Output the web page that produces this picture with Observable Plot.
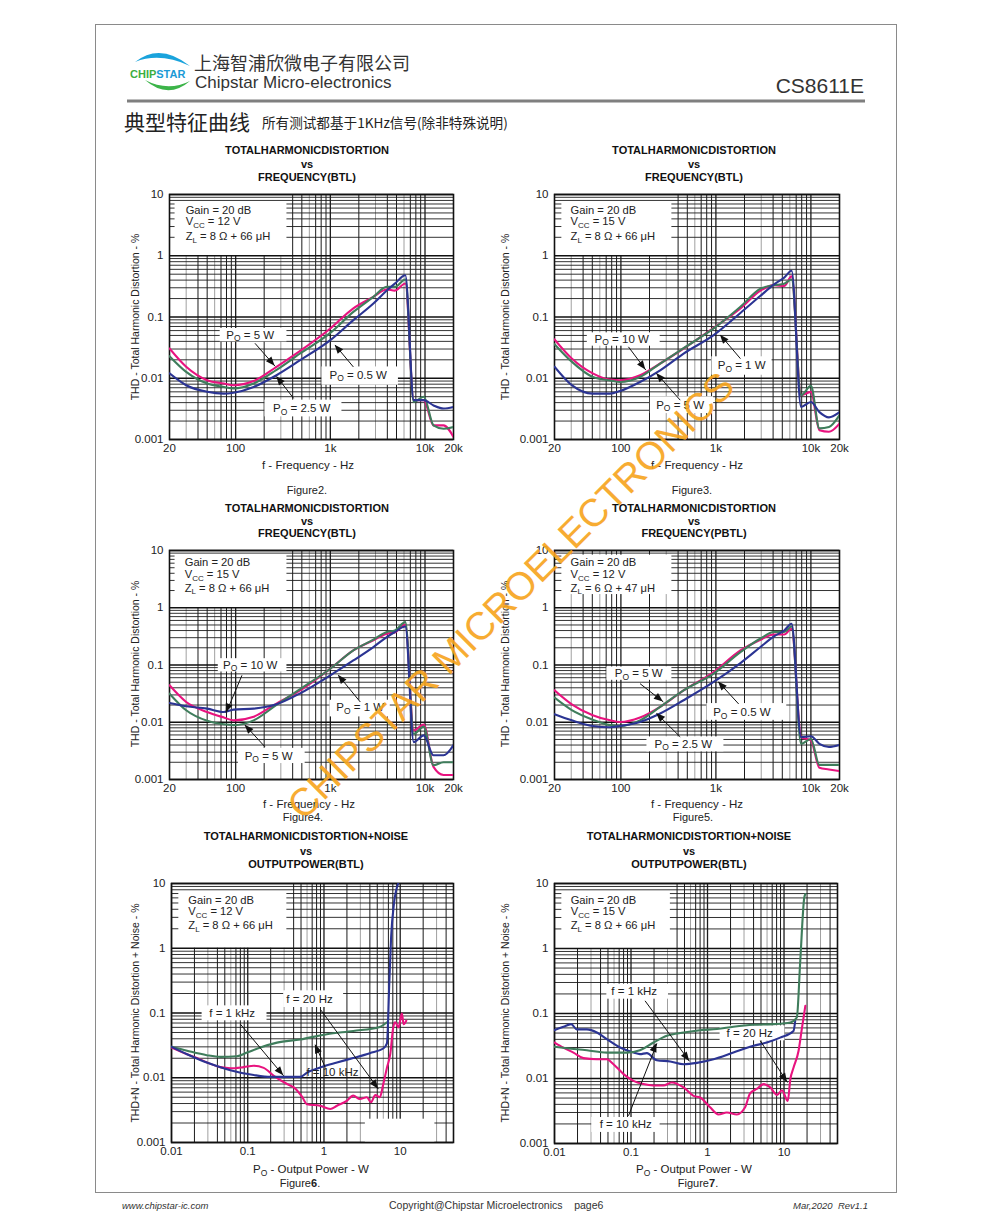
<!DOCTYPE html>
<html><head><meta charset="utf-8">
<script src="https://cdn.jsdelivr.net/npm/d3@7"></script>
<script src="https://cdn.jsdelivr.net/npm/@observablehq/plot@0.6"></script>
<style>
body{margin:0;background:#fff;}
#page{position:relative;width:991px;height:1219px;overflow:hidden;background:#fff;font-family:"Liberation Sans",Arial,sans-serif;}
.chart{position:absolute;}
#overlay{position:absolute;left:0;top:0;pointer-events:none;}
</style></head><body><div id="page"></div>
<script>
// ---------- DATA ----------
const yTicks = [0.001, 0.01, 0.1, 1, 10];
const yTickLabels = ["0.001", "0.01", "0.1", "1", "10"];
const freqTicks = [20, 100, 1000, 10000, 20000];
const freqTickLabels = ["20", "100", "1k", "10k", "20k"];
const powerTicks = [0.01, 0.1, 1, 10, 50];
const powerTickLabels = ["0.01", "0.1", "1", "10", "50"];

// Figure 2 / Figure 4 frequency points (Hz)
const freqA = [20, 30, 50, 75, 95, 155, 270, 480, 1000, 1750, 2850, 3950, 4800, 6200, 7600, 9700, 12300, 15700, 20000];
const fig2Pink  = [0.0306, 0.0154, 0.0093, 0.0082, 0.0077, 0.0090, 0.0154, 0.0280, 0.0649, 0.138, 0.213, 0.281, 0.27, 0.352, 0.0044, 0.0044, 0.0017, 0.0017, 0.0011];
const fig2Green = [0.0229, 0.0127, 0.0082, 0.0072, 0.0068, 0.0082, 0.0137, 0.0254, 0.0551, 0.121, 0.213, 0.311, 0.31, 0.41, 0.0041, 0.0050, 0.0017, 0.0015, 0.0016];
const fig2Blue  = [0.012, 0.0077, 0.0060, 0.0056, 0.0058, 0.0072, 0.0112, 0.0197, 0.0419, 0.0888, 0.166, 0.27, 0.35, 0.48, 0.0044, 0.0044, 0.0036, 0.0032, 0.0034];
const fig4Pink  = [0.0442, 0.0226, 0.0151, 0.0121, 0.0108, 0.0125, 0.0212, 0.036, 0.0863, 0.18, 0.27, 0.352, 0.37, 0.51, 0.0072, 0.0091, 0.00166, 0.0012, 0.0012];
const fig4Green = [0.0316, 0.0162, 0.0106, 0.0092, 0.0089, 0.0108, 0.0201, 0.038, 0.086, 0.18, 0.277, 0.377, 0.40, 0.56, 0.0063, 0.0084, 0.00178, 0.0020, 0.0020];
const fig4Blue  = [0.0217, 0.0190, 0.0173, 0.0151, 0.0166, 0.0173, 0.0206, 0.032, 0.066, 0.12, 0.206, 0.308, 0.377, 0.47, 0.0045, 0.0059, 0.00265, 0.00265, 0.0040];

// Figure 3 / Figure 5 frequency points (Hz)
const freqB = [20, 30.4, 50.5, 77, 98, 159, 259, 457, 947, 1812, 2946, 4090, 5233, 6265, 7880, 10000, 12300, 15500, 20000];
const fig3Pink  = [0.0430, 0.021, 0.012, 0.0095, 0.0093, 0.0112, 0.0174, 0.0306, 0.0665, 0.138, 0.27, 0.331, 0.32, 0.46, 0.0053, 0.0060, 0.00142, 0.00134, 0.00182];
const fig3Green = [0.036, 0.0186, 0.0105, 0.0092, 0.0087, 0.0105, 0.0174, 0.031, 0.065, 0.147, 0.29, 0.33, 0.35, 0.41, 0.0053, 0.0075, 0.00152, 0.0016, 0.0025];
const fig3Blue  = [0.0154, 0.0077, 0.0056, 0.0056, 0.0062, 0.0087, 0.0135, 0.0253, 0.0505, 0.116, 0.222, 0.34, 0.44, 0.568, 0.0034, 0.0041, 0.0028, 0.0023, 0.0028];
const fig5Pink  = [0.0362, 0.0206, 0.0133, 0.0108, 0.0101, 0.0121, 0.0186, 0.036, 0.0755, 0.18, 0.277, 0.34, 0.34, 0.43, 0.0055, 0.0048, 0.0016, 0.0015, 0.0014];
const fig5Green = [0.0269, 0.0163, 0.0111, 0.0089, 0.0086, 0.0108, 0.0186, 0.036, 0.071, 0.168, 0.29, 0.376, 0.376, 0.47, 0.0042, 0.0051, 0.0018, 0.0018, 0.0018];
const fig5Blue  = [0.0138, 0.0108, 0.0086, 0.0082, 0.0086, 0.0101, 0.0142, 0.0242, 0.0505, 0.108, 0.206, 0.316, 0.40, 0.526, 0.0055, 0.0057, 0.0042, 0.0037, 0.0040];

// Figure 6 (output power W -> THD+N %)
const fig6BlueP  = [0.01, 0.016, 0.029, 0.059, 0.12, 0.2, 0.3, 0.49, 0.6, 0.89, 1.48, 2.42, 4.0, 6.0, 6.7, 7.2, 7.6, 8.3, 9.4];
const fig6Blue   = [0.030, 0.0231, 0.0172, 0.0131, 0.011, 0.0103, 0.0103, 0.0103, 0.012, 0.0144, 0.0172, 0.0202, 0.024, 0.0283, 0.034, 0.3, 1.5, 5.0, 10];
const fig6GreenP = [0.01, 0.016, 0.029, 0.044, 0.072, 0.098, 0.146, 0.242, 0.489, 1.09, 2.42, 5.4, 6.7];
const fig6Green  = [0.030, 0.0261, 0.0223, 0.021, 0.0215, 0.0245, 0.0293, 0.0349, 0.039, 0.047, 0.0528, 0.061, 0.072];
const fig6PinkP  = [0.01, 0.016, 0.0216, 0.0293, 0.0438, 0.0594, 0.0887, 0.12, 0.162, 0.22, 0.328, 0.402, 0.515, 0.598, 0.89, 1.21, 1.48, 1.99, 2.42, 2.96, 3.65, 4.14, 4.72, 5.4, 6.0, 6.7, 7.4, 8.1, 8.6, 9.5, 10.5, 11.1, 12.0];
const fig6Pink   = [0.0292, 0.0231, 0.0202, 0.0172, 0.0146, 0.0140, 0.0146, 0.0153, 0.0142, 0.0107, 0.008, 0.0071, 0.0051, 0.0039, 0.0037, 0.0033, 0.0037, 0.0044, 0.0053, 0.0047, 0.005, 0.0042, 0.0054, 0.005, 0.008, 0.0143, 0.0231, 0.06, 0.072, 0.06, 0.098, 0.067, 0.076];

// Figure 7
const fig7BlueP  = [0.01, 0.0131, 0.0165, 0.0196, 0.0265, 0.0358, 0.0483, 0.0721, 0.1077, 0.131, 0.161, 0.217, 0.325, 0.487, 0.726, 1.2, 2.18, 3.99, 5.95, 8.9, 13.3, 14.0];
const fig7Blue   = [0.0554, 0.0624, 0.0686, 0.057, 0.057, 0.051, 0.0403, 0.030, 0.0251, 0.0237, 0.0246, 0.0191, 0.0183, 0.0166, 0.0174, 0.0198, 0.0251, 0.0318, 0.0357, 0.0425, 0.054, 0.077];
const fig7GreenP = [0.01, 0.0145, 0.0265, 0.0483, 0.0881, 0.131, 0.197, 0.294, 0.487, 0.8, 1.33, 2.18, 3.99, 7.3, 12.1, 14.7, 16.3, 18.4, 19.0];
const fig7Green  = [0.0307, 0.0292, 0.0272, 0.025, 0.025, 0.0272, 0.0358, 0.0454, 0.051, 0.0554, 0.0576, 0.0624, 0.067, 0.0686, 0.0727, 0.0867, 0.646, 6.1, 6.9];
const fig7PinkP  = [0.01, 0.0131, 0.0177, 0.0239, 0.0358, 0.0483, 0.059, 0.0799, 0.1077, 0.145, 0.197, 0.266, 0.34, 0.487, 0.656, 0.8, 1.08, 1.39, 1.79, 2.42, 3.1, 3.6, 4.4, 5.4, 6.6, 8.1, 9.4, 11.2, 12.1, 13.3, 15.5, 17.2, 19.0];
const fig7Pink   = [0.0358, 0.0298, 0.025, 0.0206, 0.0198, 0.0198, 0.0166, 0.0117, 0.0092, 0.0082, 0.0078, 0.0078, 0.0087, 0.0073, 0.0054, 0.0051, 0.0036, 0.0028, 0.003, 0.0028, 0.0036, 0.0059, 0.0069, 0.0082, 0.0073, 0.0056, 0.0066, 0.0045, 0.0098, 0.0146, 0.0267, 0.061, 0.131];

const PINK = "#e8137f", GREEN = "#3f7d5c", BLUE = "#2b3493";

// ---------- HELPERS ----------
const pts = (xs, ys) => xs.map((x, i) => ({x, y: ys[i]}));
function logGrid(lo, hi) {
  const out = [];
  for (let e = Math.floor(Math.log10(lo)); e <= Math.ceil(Math.log10(hi)); e++)
    for (let k = 1; k <= 9; k++) {
      const v = +(k * Math.pow(10, e)).toPrecision(3);
      if (v >= lo * 0.999 && v <= hi * 1.001) out.push({v, k});
    }
  return out;
}
function rich(sel, parts, subSize) {
  let prev = false;
  parts.forEach(([t, sub]) => {
    const ts = sel.append("tspan").text(t);
    if (sub) { ts.attr("font-size", subSize); if (!prev) ts.attr("dy", 2.5); }
    else if (prev) ts.attr("dy", -2.5);
    prev = !!sub;
  });
}
const PO = v => [["P"], ["O", 1], [" = " + v]];

const ML = 50, MR = 20, MT = 10, MB = 24;
const page = d3.select("#page");

function makeChart(cfg) {
  const width = cfg.R - cfg.L + ML + MR;
  const height = cfg.B - cfg.T + MT + MB;
  const xg = logGrid(cfg.xDomain[0], cfg.xDomain[1]);
  const yg = logGrid(0.001, 10);
  const vTop = d => (cfg.cutX && d.v > cfg.xDomain[0] && d.v < cfg.cutX) ? 1 : 10;
  const isGray = d => d.k === 3 || d.k === 6;
  const svg = Plot.plot({
    width, height, marginLeft: ML, marginRight: MR, marginTop: MT, marginBottom: MB,
    style: {fontFamily: "Liberation Sans, Arial, sans-serif", fontSize: "11.5px", color: "#222", background: "transparent", overflow: "visible"},
    x: {type: "log", domain: cfg.xDomain, ticks: cfg.xTicks, tickFormat: d => cfg.xLabels[cfg.xTicks.indexOf(d)], tickSize: 0, tickPadding: 4, label: null},
    y: {type: "log", domain: [0.001, 10], ticks: yTicks, tickFormat: d => yTickLabels[yTicks.indexOf(d)], tickSize: 0, tickPadding: 6, label: null},
    marks: [
      Plot.ruleX(xg.filter(isGray), {x: "v", y1: () => 0.001, y2: vTop, stroke: "#a0a0a0", strokeWidth: 1}),
      Plot.ruleX(xg.filter(d => !isGray(d) && d.k !== 1), {x: "v", y1: () => 0.001, y2: vTop, stroke: "#1c1c1c", strokeWidth: 1}),
      Plot.ruleX(xg.filter(d => d.k === 1), {x: "v", y1: () => 0.001, y2: vTop, stroke: "#1c1c1c", strokeWidth: 1.3}),
      Plot.ruleY(yg.filter(d => d.k !== 1), {y: "v", stroke: "#1c1c1c", strokeWidth: 0.9}),
      Plot.ruleY(yg.filter(d => d.k === 1), {y: "v", stroke: "#111", strokeWidth: 1.7}),
      Plot.rect([cfg.cond], {x1: "x1", x2: "x2", y1: "y1", y2: "y2", fill: "white"}),
      Plot.rect(cfg.boxes, {x1: "x1", x2: "x2", y1: "y1", y2: "y2", fill: "white"}),
      Plot.frame({stroke: "#111", strokeWidth: 1.6}),
      ...cfg.series.map(s => Plot.line(pts(s.xs, s.ys), {x: "x", y: "y", stroke: s.color, strokeWidth: 2.1, curve: "monotone-x", clip: true})),
      Plot.link(cfg.arrows, {x1: "x1", y1: "y1", x2: "x2", y2: "y2", stroke: "#111", strokeWidth: 1})
    ]
  });
  const sx = svg.scale("x"), sy = svg.scale("y");
  const g = d3.select(svg).append("g").attr("text-anchor", "start");
  // arrow heads through the scales
  cfg.arrows.forEach(a => {
    const x1 = sx.apply(a.x1), y1 = sy.apply(a.y1), x2 = sx.apply(a.x2), y2 = sy.apply(a.y2);
    const ang = Math.atan2(y2 - y1, x2 - x1), L = 9, W = 3.6;
    const bx = x2 - L * Math.cos(ang), by = y2 - L * Math.sin(ang);
    const p = [[x2, y2], [bx - W * Math.sin(ang), by + W * Math.cos(ang)], [bx + W * Math.sin(ang), by - W * Math.cos(ang)]];
    g.append("path").attr("d", "M" + p.map(q => q.join(",")).join("L") + "Z").attr("fill", "#111");
  });
  const font = "Liberation Sans, Arial, sans-serif";
  const condParts = [[["Gain = 20 dB"]], [["V"], ["CC", 1], [" = " + cfg.vcc]], [["Z"], ["L", 1], [" = " + cfg.zl]]];
  condParts.forEach((parts, i) => {
    const t = g.append("text").attr("x", sx.apply(cfg.condX)).attr("y", sy.apply(cfg.condY[i])).attr("dy", "0.35em")
      .attr("text-anchor", "start").attr("font-family", font).attr("font-size", 11.2).attr("fill", "#222");
    rich(t, parts, 8);
  });
  cfg.labels.forEach(l => {
    const t = g.append("text").attr("x", sx.apply(l.x)).attr("y", sy.apply(l.y)).attr("dy", "0.35em")
      .attr("text-anchor", "start").attr("font-family", font).attr("font-size", 11.5).attr("fill", "#222");
    rich(t, l.parts, 8.5);
  });
  const div = page.append("div").attr("class", "chart")
    .style("left", (cfg.L - ML) + "px").style("top", (cfg.T - MT) + "px").style("width", width + "px");
  div.node().appendChild(svg);
}

const freqAxis = {xDomain: [20, 20000], xTicks: freqTicks, xLabels: freqTickLabels};
const powAxis = {xDomain: [0.01, 50], xTicks: powerTicks, xLabels: powerTickLabels};

const charts = [
  {...freqAxis, L: 169, R: 453, T: 194, B: 439, cutX: 348, vcc: "12 V", zl: "8 Ω + 66 μH",
   cond: {x1: 22.9, x2: 348, y1: 7.6, y2: 1.8}, condX: 30, condY: [5.55, 3.58, 2.04],
   series: [{xs: freqA, ys: fig2Pink, color: PINK}, {xs: freqA, ys: fig2Green, color: GREEN}, {xs: freqA, ys: fig2Blue, color: BLUE}],
   boxes: [{x1: 68.6, x2: 348, y1: 0.0649, y2: 0.0393}, {x1: 816, x2: 5240, y1: 0.0153, y2: 0.0077}, {x1: 204, x2: 1326, y1: 0.00439, y2: 0.00234}],
   labels: [{x: 80.6, y: 0.05, parts: PO("5 W")}, {x: 992, y: 0.0113, parts: PO("0.5 W")}, {x: 251, y: 0.0032, parts: PO("2.5 W")}],
   arrows: [{x1: 160, y1: 0.0372, x2: 261, y2: 0.0157}, {x1: 1752, y1: 0.0153, x2: 1125, y2: 0.0347}, {x1: 409, y1: 0.0047, x2: 272, y2: 0.0106}]},
  {...freqAxis, L: 554, R: 839, T: 194, B: 439, cutX: 344, vcc: "15 V", zl: "8 Ω + 66 μH",
   cond: {x1: 23.9, x2: 344, y1: 7.6, y2: 1.8}, condX: 29.9, condY: [5.55, 3.58, 2.04],
   series: [{xs: freqB, ys: fig3Pink, color: PINK}, {xs: freqB, ys: fig3Green, color: GREEN}, {xs: freqB, ys: fig3Blue, color: BLUE}],
   boxes: [{x1: 44.3, x2: 259, y1: 0.0551, y2: 0.0334}, {x1: 907, x2: 3900, y1: 0.0224, y2: 0.0112}, {x1: 204, x2: 947, y1: 0.00498, y2: 0.00265}],
   labels: [{x: 53.5, y: 0.0434, parts: PO("10 W")}, {x: 1058, y: 0.016, parts: PO("1 W")}, {x: 238, y: 0.00364, parts: PO("5 W")}],
   arrows: [{x1: 120, y1: 0.0326, x2: 183, y2: 0.0136}, {x1: 1812, y1: 0.0209, x2: 1117, y2: 0.0505}, {x1: 421, y1: 0.00439, x2: 238, y2: 0.0119}]},
  {...freqAxis, L: 169, R: 453, T: 550, B: 779, cutX: 348, vcc: "15 V", zl: "8 Ω + 66 μH",
   cond: {x1: 22.9, x2: 348, y1: 8.3, y2: 1.7}, condX: 29.3, condY: [6.1, 3.75, 2.2],
   series: [{xs: freqA, ys: fig4Pink, color: PINK}, {xs: freqA, ys: fig4Green, color: GREEN}, {xs: freqA, ys: fig4Blue, color: BLUE}],
   boxes: [{x1: 65.5, x2: 348, y1: 0.129, y2: 0.0755}, {x1: 992, x2: 4296, y1: 0.0242, y2: 0.0124}, {x1: 107, x2: 542, y1: 0.0035, y2: 0.0019}],
   labels: [{x: 74.4, y: 0.0986, parts: PO("10 W")}, {x: 1170, y: 0.0178, parts: PO("1 W")}, {x: 126, y: 0.00255, parts: PO("5 W")}],
   arrows: [{x1: 116.5, y1: 0.066, x2: 79.3, y2: 0.01455}, {x1: 2072, y1: 0.0226, x2: 1218, y2: 0.066}, {x1: 204, y1: 0.00372, x2: 126, y2: 0.00887}]},
  {...freqAxis, L: 554, R: 839, T: 550, B: 779, cutX: null, vcc: "12 V", zl: "6 Ω + 47 μH",
   cond: {x1: 23.9, x2: 344, y1: 8.3, y2: 1.7}, condX: 29.9, condY: [6.1, 3.75, 2.2],
   series: [{xs: freqB, ys: fig5Pink, color: PINK}, {xs: freqB, ys: fig5Green, color: GREEN}, {xs: freqB, ys: fig5Blue, color: BLUE}],
   boxes: [{x1: 71.2, x2: 344, y1: 0.0923, y2: 0.054}, {x1: 804, x2: 5570, y1: 0.0212, y2: 0.0108}, {x1: 188, x2: 1214, y1: 0.00555, y2: 0.00304}],
   labels: [{x: 87.2, y: 0.0706, parts: PO("5 W")}, {x: 947, y: 0.0148, parts: PO("0.5 W")}, {x: 229, y: 0.00413, parts: PO("2.5 W")}],
   arrows: [{x1: 159, y1: 0.0472, x2: 280, y2: 0.0226}, {x1: 1735, y1: 0.0209, x2: 1066, y2: 0.0505}, {x1: 421, y1: 0.00555, x2: 238, y2: 0.01416}]},
  {...powAxis, L: 171, R: 453, T: 883, B: 1142, cutX: 0.326, vcc: "12 V", zl: "8 Ω + 66 μH",
   cond: {x1: 0.01248, x2: 0.326, y1: 7.52, y2: 1.65}, condX: 0.01686, condY: [5.53, 3.65, 2.22],
   series: [{xs: fig6GreenP, ys: fig6Green, color: GREEN}, {xs: fig6PinkP, ys: fig6Pink, color: PINK}, {xs: fig6BlueP, ys: fig6Blue, color: BLUE}],
   boxes: [{x1: 0.296, x2: 1.81, y1: 0.22, y2: 0.1216}, {x1: 0.0252, x2: 0.179, y1: 0.129, y2: 0.0757}, {x1: 3.49, x2: 28.5, y1: 0.00229, y2: 0.001}],
   labels: [{x: 0.326, y: 0.1636, parts: [["f = 20 Hz"]]}, {x: 0.0318, y: 0.0982, parts: [["f = 1 kHz"]]}, {x: 0.597, y: 0.01205, parts: [["f = 10 kHz"]]}],
   arrows: [{x1: 0.0801, y1: 0.0672, x2: 0.296, y2: 0.0107}, {x1: 0.893, y1: 0.1146, x2: 5.19, y2: 0.00667}, {x1: 1.04, y1: 0.0144, x2: 0.77, y2: 0.0322}]},
  {...powAxis, L: 554, R: 837, T: 883, B: 1143, cutX: 0.327, vcc: "15 V", zl: "8 Ω + 66 μH",
   cond: {x1: 0.01247, x2: 0.327, y1: 7.53, y2: 1.66}, condX: 0.01651, condY: [5.54, 3.67, 2.23],
   series: [{xs: fig7PinkP, ys: fig7Pink, color: PINK}, {xs: fig7BlueP, ys: fig7Blue, color: BLUE}, {xs: fig7GreenP, ys: fig7Green, color: GREEN}],
   boxes: [{x1: 0.0483, x2: 0.309, y1: 0.2825, y2: 0.166}, {x1: 1.46, x2: 10.3, y1: 0.0646, y2: 0.038}, {x1: 0.0307, x2: 0.24, y1: 0.00251, y2: 0.00148}],
   labels: [{x: 0.0562, y: 0.2155, parts: [["f = 1 kHz"]]}, {x: 1.8, y: 0.0498, parts: [["f = 20 Hz"]]}, {x: 0.0395, y: 0.00194, parts: [["f = 10 kHz"]]}],
   arrows: [{x1: 0.1526, y1: 0.1567, x2: 0.584, y2: 0.0183}, {x1: 4.9, y1: 0.038, x2: 11.1, y2: 0.00868}, {x1: 0.0927, y1: 0.00267, x2: 0.218, y2: 0.0345}]}
];
charts.forEach(makeChart);

// ---------- PAGE OVERLAY (header, titles, labels, footer, watermark) ----------
const ov = page.append("svg").attr("id", "overlay").attr("width", 991).attr("height", 1219);
const F = "Liberation Sans, Arial, sans-serif", CJK = "Noto Sans CJK SC, sans-serif";
function txt(x, y, s, o = {}) {
  const t = ov.append("text").attr("x", x).attr("y", y).attr("font-family", o.family || F).attr("font-size", o.size || 11)
    .attr("fill", o.fill || "#111").attr("text-anchor", o.anchor || "start").style("white-space", "pre");
  if (o.weight) t.attr("font-weight", o.weight);
  if (o.style) t.attr("font-style", o.style);
  if (o.rotate) t.attr("transform", `rotate(${o.rotate} ${x} ${y})`);
  if (Array.isArray(s)) rich(t, s, o.sub || 8.5); else t.text(s);
  return t;
}
// border
ov.append("rect").attr("x", 95.5).attr("y", 24.5).attr("width", 801).attr("height", 1168).attr("fill", "none").attr("stroke", "#8a8a8a").attr("stroke-width", 1);
// logo
ov.append("path").attr("d", "M135,62 Q160,42 190,66 Q160,52 135,62 Z").attr("fill", "#1aa3dc");
ov.append("path").attr("d", "M145,80 Q168,100 190,81 Q168,92 145,80 Z").attr("fill", "#3cb449");
const lg = txt(130, 77.5, "", {size: 11, weight: "bold"});
lg.append("tspan").attr("fill", "#3cae3f").text("CHIP");
lg.append("tspan").attr("fill", "#1b9ad6").text("STAR");
txt(194, 70, "上海智浦欣微电子有限公司", {family: CJK, size: 18, fill: "#333"});
txt(195, 88, "Chipstar Micro-electronics", {size: 17, fill: "#333"});
txt(864, 93, "CS8611E", {size: 21, fill: "#333", anchor: "end"});
ov.append("line").attr("x1", 127).attr("x2", 865).attr("y1", 101).attr("y2", 101).attr("stroke", "#7f7f7f").attr("stroke-width", 3);
txt(124, 130, "典型特征曲线", {family: CJK, size: 21, fill: "#222"});
txt(262, 128, "所有测试都基于1KHz信号(除非特殊说明)", {family: CJK, size: 13.6, fill: "#222"});

// chart titles
const titles = [
  {cx: 307, y: [154, 168, 181], l: ["TOTALHARMONICDISTORTION", "vs", "FREQUENCY(BTL)"]},
  {cx: 694, y: [154, 168, 181], l: ["TOTALHARMONICDISTORTION", "vs", "FREQUENCY(BTL)"]},
  {cx: 307, y: [512, 525, 537], l: ["TOTALHARMONICDISTORTION", "vs", "FREQUENCY(BTL)"]},
  {cx: 694, y: [512, 525, 537], l: ["TOTALHARMONICDISTORTION", "vs", "FREQUENCY(PBTL)"]},
  {cx: 306, y: [840, 855, 868], l: ["TOTALHARMONICDISTORTION+NOISE", "vs", "OUTPUTPOWER(BTL)"]},
  {cx: 689, y: [840, 855, 868], l: ["TOTALHARMONICDISTORTION+NOISE", "vs", "OUTPUTPOWER(BTL)"]}
];
titles.forEach(t => t.l.forEach((s, i) => txt(t.cx, t.y[i], s, {size: 11, weight: "bold", anchor: "middle"})));

// axis labels
const yLab = "THD - Total Harmonic Distortion - %", yLabN = "THD+N - Total Harmonic Distortion + Noise - %";
[[139, 317, yLab], [509, 317, yLab], [139, 664, yLab], [509, 664, yLab], [139, 1013, yLabN], [509, 1013, yLabN]]
  .forEach(([x, y, s]) => txt(x, y, s, {size: 10.5, anchor: "middle", rotate: -90, fill: "#222"}));
const xLab = "f - Frequency - Hz";
[[308, 469], [697, 469], [309, 808], [697, 808]].forEach(([x, y]) => txt(x, y, xLab, {size: 11.5, anchor: "middle", fill: "#222"}));
[[311, 1173], [694, 1173]].forEach(([x, y]) => txt(x, y, [["P"], ["O", 1], [" - Output Power - W"]], {size: 11.5, anchor: "middle", fill: "#222"}));

// captions
[[307, 494, "2"], [692, 494, "3"], [303, 821, "4"], [693, 821, "5"]].forEach(([x, y, n]) => txt(x, y, "Figure" + n + ".", {size: 11, anchor: "middle", fill: "#222"}));
[[300, 1187, "6"], [698, 1187, "7"]].forEach(([x, y, n]) => {
  const t = txt(x, y, "", {size: 11, anchor: "middle", fill: "#222"});
  t.append("tspan").text("Figure"); t.append("tspan").attr("font-weight", "bold").text(n); t.append("tspan").text(".");
});

// footer
txt(122, 1209, "www.chipstar-ic.com", {size: 9.5, style: "italic", fill: "#333"});
txt(389, 1209, "Copyright@Chipstar Microelectronics    page6", {size: 10.5, fill: "#333"});
txt(793, 1209, "Mar,2020  Rev1.1", {size: 9.5, style: "italic", fill: "#333"});

// watermark
txt(520, 605, "CHIPSTAR MICROELECTRONICS", {size: 39, anchor: "middle", rotate: -45, fill: "#f7a41c"}).attr("opacity", 0.9);
</script></body></html>
